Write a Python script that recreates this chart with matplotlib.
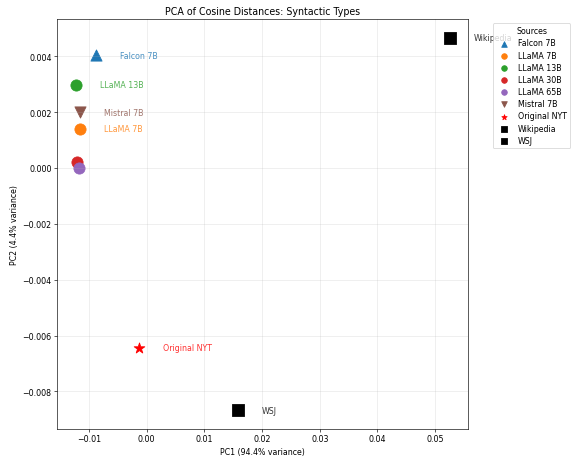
import matplotlib
matplotlib.use("Agg")
import matplotlib.pyplot as plt

sources = ["Falcon 7B", "LLaMA 7B", "LLaMA 13B", "LLaMA 30B", "LLaMA 65B",
           "Mistral 7B", "Original NYT", "Wikipedia", "WSJ"]
pc1 = [-0.00884, -0.0116, -0.0123, -0.0121, -0.0118, -0.0116, -0.00139, 0.0525, 0.01577]
pc2 = [0.00404, 0.00140, 0.00297, 0.00021, 0.00000, 0.00200, -0.00643, 0.00466, -0.00868]
markers = ["^", "o", "o", "o", "o", "v", "*", "s", "s"]
colors = ["C0", "C1", "C2", "C3", "C4", "C5", "red", "black", "black"]
annotated = [True, True, True, False, False, True, True, True, True]

fig, ax = plt.subplots(figsize=(10, 8), dpi=57.1)
fig.subplots_adjust(left=0.1, right=0.82, top=0.956, bottom=0.059)

for name, x, y, m, c, lab in zip(sources, pc1, pc2, markers, colors, annotated):
    ax.scatter(x, y, marker=m, color=c, s=200, label=name)
    if lab:
        ax.annotate(name, (x, y), xytext=(30, 0), textcoords="offset points",
                    va="center", color=c, alpha=0.8)

ax.set_xlabel("PC1 (94.4% variance)")
ax.set_ylabel("PC2 (4.4% variance)")
ax.set_title("PCA of Cosine Distances: Syntactic Types")
ax.legend(title="Sources", bbox_to_anchor=(1.05, 1), loc="upper left",
          markerscale=0.5, labelspacing=0.4)
ax.grid(alpha=0.3)

fig.savefig("out.png", dpi=57.1)
